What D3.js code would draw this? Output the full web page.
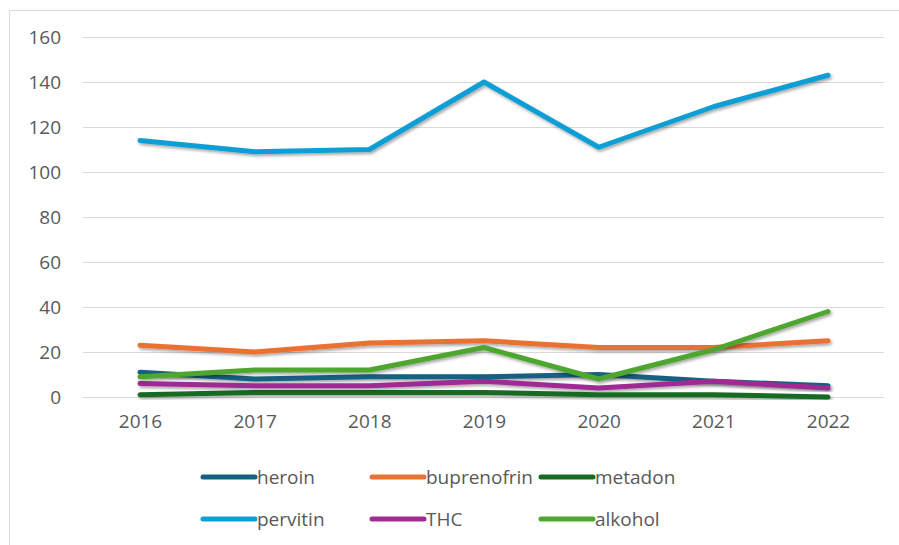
<!DOCTYPE html>
<html>
<head>
<meta charset="utf-8">
<script src="https://cdn.jsdelivr.net/npm/d3@7"></script>
<style>
  body { margin: 0; background: #fff; }
  text { font-family: 'Open Sans', sans-serif; fill: #595959; }
</style>
</head>
<body>
<div id="app"></div>
<script>
const years = [2016, 2017, 2018, 2019, 2020, 2021, 2022];
const yTicks = [0, 20, 40, 60, 80, 100, 120, 140, 160];

const heroin      = [11, 8, 9, 9, 10, 7, 5];
const buprenofrin = [23, 20, 24, 25, 22, 22, 25];
const metadon     = [1, 2, 2, 2, 1, 1, 0];
const pervitin    = [114, 109, 110, 140, 111, 129, 143];
const thc         = [6, 5, 5, 7, 4, 7, 4];
const alkohol     = [9, 12, 12, 22, 8, 21, 38];

const seriesNames = ['heroin', 'buprenofrin', 'metadon', 'pervitin', 'THC', 'alkohol'];
const seriesValues = [heroin, buprenofrin, metadon, pervitin, thc, alkohol];
const colors = ['#156082', '#E97132', '#196B24', '#0F9ED5', '#A02B93', '#4EA72E'];

const W = 899, H = 545;

const svg = d3.select('#app').append('svg')
  .attr('width', W)
  .attr('height', H);

// drop shadow like the office chart
const defs = svg.append('defs');
defs.append('filter')
  .attr('id', 'shadow')
  .attr('x', '-10%').attr('y', '-50%')
  .attr('width', '120%').attr('height', '200%')
  .append('feDropShadow')
  .attr('dx', 1.5).attr('dy', 2)
  .attr('stdDeviation', 1.5)
  .attr('flood-color', '#000')
  .attr('flood-opacity', 0.35);

// chart area border (open at right and bottom, cropped)
svg.append('rect')
  .attr('x', 9.5).attr('y', 10.5)
  .attr('width', W + 20).attr('height', H + 20)
  .attr('fill', 'none')
  .attr('stroke', '#d9d9d9');

const x = d3.scalePoint()
  .domain(years)
  .range([140, 828]);

const y = d3.scaleLinear()
  .domain([0, 160])
  .range([397, 37]);

// gridlines
svg.append('g')
  .selectAll('line')
  .data(yTicks)
  .join('line')
  .attr('x1', 83).attr('x2', 884)
  .attr('y1', d => y(d) + 0.5).attr('y2', d => y(d) + 0.5)
  .attr('stroke', '#d9d9d9')
  .attr('stroke-width', 1.2);

// y axis labels
const yAxis = d3.axisLeft(y).tickValues(yTicks).tickSize(0).tickPadding(0);
const gy = svg.append('g')
  .attr('transform', 'translate(61,0)')
  .call(yAxis);
gy.select('.domain').remove();
gy.selectAll('text')
  .attr('fill', '#595959')
  .style('font-size', '19px');

// x axis labels
const xAxis = d3.axisBottom(x).tickSize(0).tickPadding(0);
const gx = svg.append('g')
  .attr('transform', 'translate(0,414)')
  .call(xAxis);
gx.select('.domain').remove();
gx.selectAll('text')
  .attr('fill', '#595959')
  .style('font-size', '19px');

// lines
const line = d3.line()
  .x((d, i) => x(years[i]))
  .y(d => y(d));

svg.append('g')
  .selectAll('path')
  .data(seriesValues)
  .join('path')
  .attr('d', d => line(d))
  .attr('fill', 'none')
  .attr('stroke', (d, i) => colors[i])
  .attr('stroke-width', 5)
  .attr('stroke-linecap', 'round')
  .attr('stroke-linejoin', 'round')
  .attr('filter', 'url(#shadow)');

// legend
const legendCols = [203, 372, 541];
const legendRows = [477, 519];

const legend = svg.append('g')
  .selectAll('g')
  .data(seriesNames)
  .join('g')
  .attr('transform', (d, i) => `translate(${legendCols[i % 3]},${legendRows[Math.floor(i / 3)]})`);

legend.append('line')
  .attr('x1', 0).attr('x2', 52)
  .attr('y1', 0).attr('y2', 0)
  .attr('stroke', (d, i) => colors[i])
  .attr('stroke-width', 5)
  .attr('stroke-linecap', 'round');

legend.append('text')
  .attr('x', 54)
  .attr('y', 0)
  .attr('dy', '0.35em')
  .style('font-size', '19px')
  .text(d => d);
</script>
</body>
</html>
